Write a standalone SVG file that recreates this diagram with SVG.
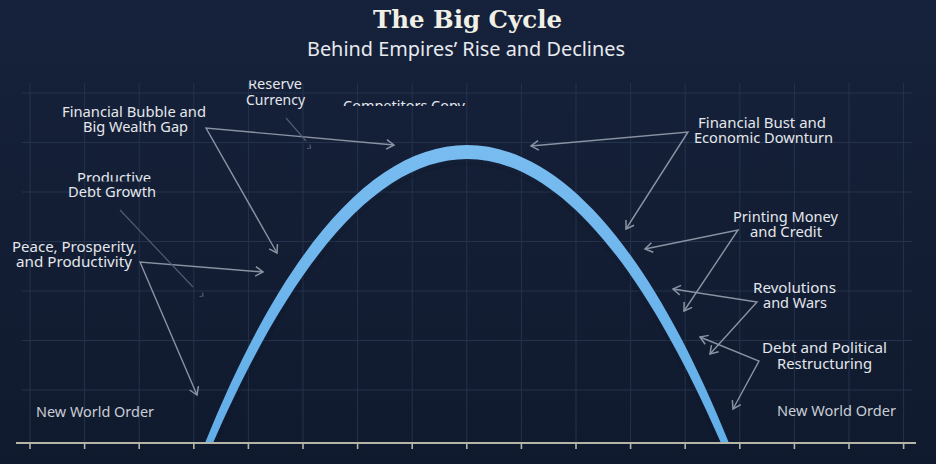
<svg xmlns="http://www.w3.org/2000/svg" width="936" height="464" viewBox="0 0 936 464">
  <defs>
    <linearGradient id="bg" x1="0" y1="0" x2="0" y2="1">
      <stop offset="0" stop-color="#16223b"/>
      <stop offset="1" stop-color="#101a2e"/>
    </linearGradient>
    <linearGradient id="arcfill" x1="0" y1="0" x2="0" y2="1">
      <stop offset="0" stop-color="#78bcf0"/>
      <stop offset="1" stop-color="#62aee8"/>
    </linearGradient>
    <marker id="arr" viewBox="-9 -6 11 12" refX="0" refY="0" markerWidth="11" markerHeight="12" markerUnits="userSpaceOnUse" orient="auto-start-reverse">
      <path d="M-7.5,-4.8 L0,0 L-7.5,4.8" fill="none" stroke="#8a93a3" stroke-width="1.5"/>
    </marker>
    <clipPath id="clipReserve"><rect x="200" y="80.5" width="150" height="40"/></clipPath>
    <clipPath id="clipComp"><rect x="320" y="80" width="180" height="26"/></clipPath>
    <clipPath id="clipProd"><rect x="40" y="160" width="150" height="21.5"/><rect x="40" y="187" width="150" height="20"/></clipPath>
  </defs>
  <style>
    .grid { stroke: #24324c; stroke-width: 1; fill: none; }
    .axis { stroke: #b4b5a6; stroke-width: 2.2; fill: none; }
    .tick { stroke: #b4b5a6; stroke-width: 1.6; }
    .lbl { font-family: "Noto Sans", "Open Sans", sans-serif; font-size: 14.5px; fill: #e4e7ec; text-anchor: middle; }
    .big { font-size: 15px; }
    .dim { fill: #c9cdd4; }
    .conn { fill: none; stroke: #8a93a3; stroke-width: 1.4; marker-start: url(#arr); marker-end: url(#arr); }
    .faint { fill: none; stroke: #4f5b72; stroke-width: 1.2; }
  </style>

  <rect width="936" height="464" fill="url(#bg)"/>

  <g id="grid">
    <path class="grid" d="M22,93H912M22,142.5H912M22,192H912M22,241.5H912M22,291H912M22,340.5H912M22,390H912"/>
    <path class="grid" d="M30,83V443M84.6,83V443M139.2,83V443M193.8,83V443M248.4,83V443M303,83V443M357.6,83V443M412.2,83V443M466.8,83V443M521.4,83V443M576,83V443M630.6,83V443M685.2,83V443M739.8,83V443M794.4,83V443M849,83V443M903.6,83V443"/>
  </g>

  <g id="title">
    <text x="467.5" y="28" font-family="DejaVu Serif, Liberation Serif, serif" font-weight="bold" font-size="24" fill="#f1f0e6" text-anchor="middle" textLength="189" lengthAdjust="spacingAndGlyphs">The Big Cycle</text>
    <text x="466" y="56" font-family="Noto Sans, Open Sans, sans-serif" font-size="20" fill="#e8eaee" text-anchor="middle" textLength="318" lengthAdjust="spacingAndGlyphs">Behind Empires’ Rise and Declines</text>
  </g>

  <g id="curve">
    <path d="M205,443 C365,45.7 569,45.7 729,443 L721,443 C556,64.3 378,64.3 213,443 Z" fill="url(#arcfill)"/>
    <path d="M217,440 C380,72 554,72 717,440" fill="none" stroke="#0b1322" stroke-width="3" stroke-dasharray="1 2" opacity="0.5"/>
  </g>

  <g id="axis">
    <path class="axis" d="M16,443H916"/>
    <path class="tick" d="M30,443V449M84.6,443V449M139.2,443V449M193.8,443V449M248.4,443V449M303,443V449M357.6,443V449M412.2,443V449M466.8,443V449M521.4,443V449M576,443V449M630.6,443V449M685.2,443V449M739.8,443V449M794.4,443V449M849,443V449M903.6,443V449"/>
  </g>

  <g id="connectors">
    <path class="conn" d="M394,145 L206,128 L277,253"/>
    <path class="conn" d="M263,272 L140,262 L197,395"/>
    <path class="conn" d="M531,146 L688,132 L626,229"/>
    <path class="conn" d="M645,249 L738,230 L684,311"/>
    <path class="conn" d="M673,289 L757,302 L710,354"/>
    <path class="conn" d="M700,337 L759,361 L733,409"/>
    <path class="faint" d="M286,118 L306,141"/>
    <path class="faint" d="M307,148.5 L310.5,148 L310,144.5"/>
    <path class="faint" d="M120,210 L193,287"/>
    <path class="faint" d="M199.5,296.5 L203,296 L202.5,292.5"/>
  </g>

  <g id="node-financial-bubble">
    <text class="lbl"><tspan x="134" y="117" textLength="144" lengthAdjust="spacingAndGlyphs">Financial Bubble and</tspan><tspan x="135.5" y="132" textLength="105" lengthAdjust="spacingAndGlyphs">Big Wealth Gap</tspan></text>
  </g>
  <g id="node-reserve-currency" clip-path="url(#clipReserve)">
    <text class="lbl"><tspan x="275" y="89" textLength="54" lengthAdjust="spacingAndGlyphs">Reserve</tspan><tspan x="275.5" y="105" textLength="59" lengthAdjust="spacingAndGlyphs">Currency</tspan></text>
  </g>
  <g id="node-competitors-copy" clip-path="url(#clipComp)">
    <text class="lbl" x="404" y="111" textLength="122" lengthAdjust="spacingAndGlyphs">Competitors Copy</text>
  </g>
  <g id="node-productive-debt" clip-path="url(#clipProd)">
    <text class="lbl"><tspan x="114" y="183" textLength="74" lengthAdjust="spacingAndGlyphs">Productive</tspan><tspan x="112" y="197" textLength="88" lengthAdjust="spacingAndGlyphs">Debt Growth</tspan></text>
  </g>
  <g id="node-peace">
    <text class="lbl big"><tspan x="74.5" y="252" textLength="125" lengthAdjust="spacingAndGlyphs">Peace, Prosperity,</tspan><tspan x="74" y="267" textLength="116" lengthAdjust="spacingAndGlyphs">and Productivity</tspan></text>
  </g>
  <g id="node-new-world-order-left">
    <text class="lbl dim" x="95" y="417" textLength="118" lengthAdjust="spacingAndGlyphs">New World Order</text>
  </g>
  <g id="node-financial-bust">
    <text class="lbl"><tspan x="762" y="128" textLength="128" lengthAdjust="spacingAndGlyphs">Financial Bust and</tspan><tspan x="763.5" y="143" textLength="139" lengthAdjust="spacingAndGlyphs">Economic Downturn</tspan></text>
  </g>
  <g id="node-printing-money">
    <text class="lbl"><tspan x="785.5" y="222" textLength="105" lengthAdjust="spacingAndGlyphs">Printing Money</tspan><tspan x="786" y="237" textLength="72" lengthAdjust="spacingAndGlyphs">and Credit</tspan></text>
  </g>
  <g id="node-revolutions">
    <text class="lbl"><tspan x="794.5" y="293" textLength="83" lengthAdjust="spacingAndGlyphs">Revolutions</tspan><tspan x="795" y="308" textLength="64" lengthAdjust="spacingAndGlyphs">and Wars</tspan></text>
  </g>
  <g id="node-debt-political">
    <text class="lbl"><tspan x="824.5" y="353" textLength="125" lengthAdjust="spacingAndGlyphs">Debt and Political</tspan><tspan x="824.5" y="369" textLength="95" lengthAdjust="spacingAndGlyphs">Restructuring</tspan></text>
  </g>
  <g id="node-new-world-order-right">
    <text class="lbl dim" x="836.5" y="416" textLength="119" lengthAdjust="spacingAndGlyphs">New World Order</text>
  </g>
</svg>
